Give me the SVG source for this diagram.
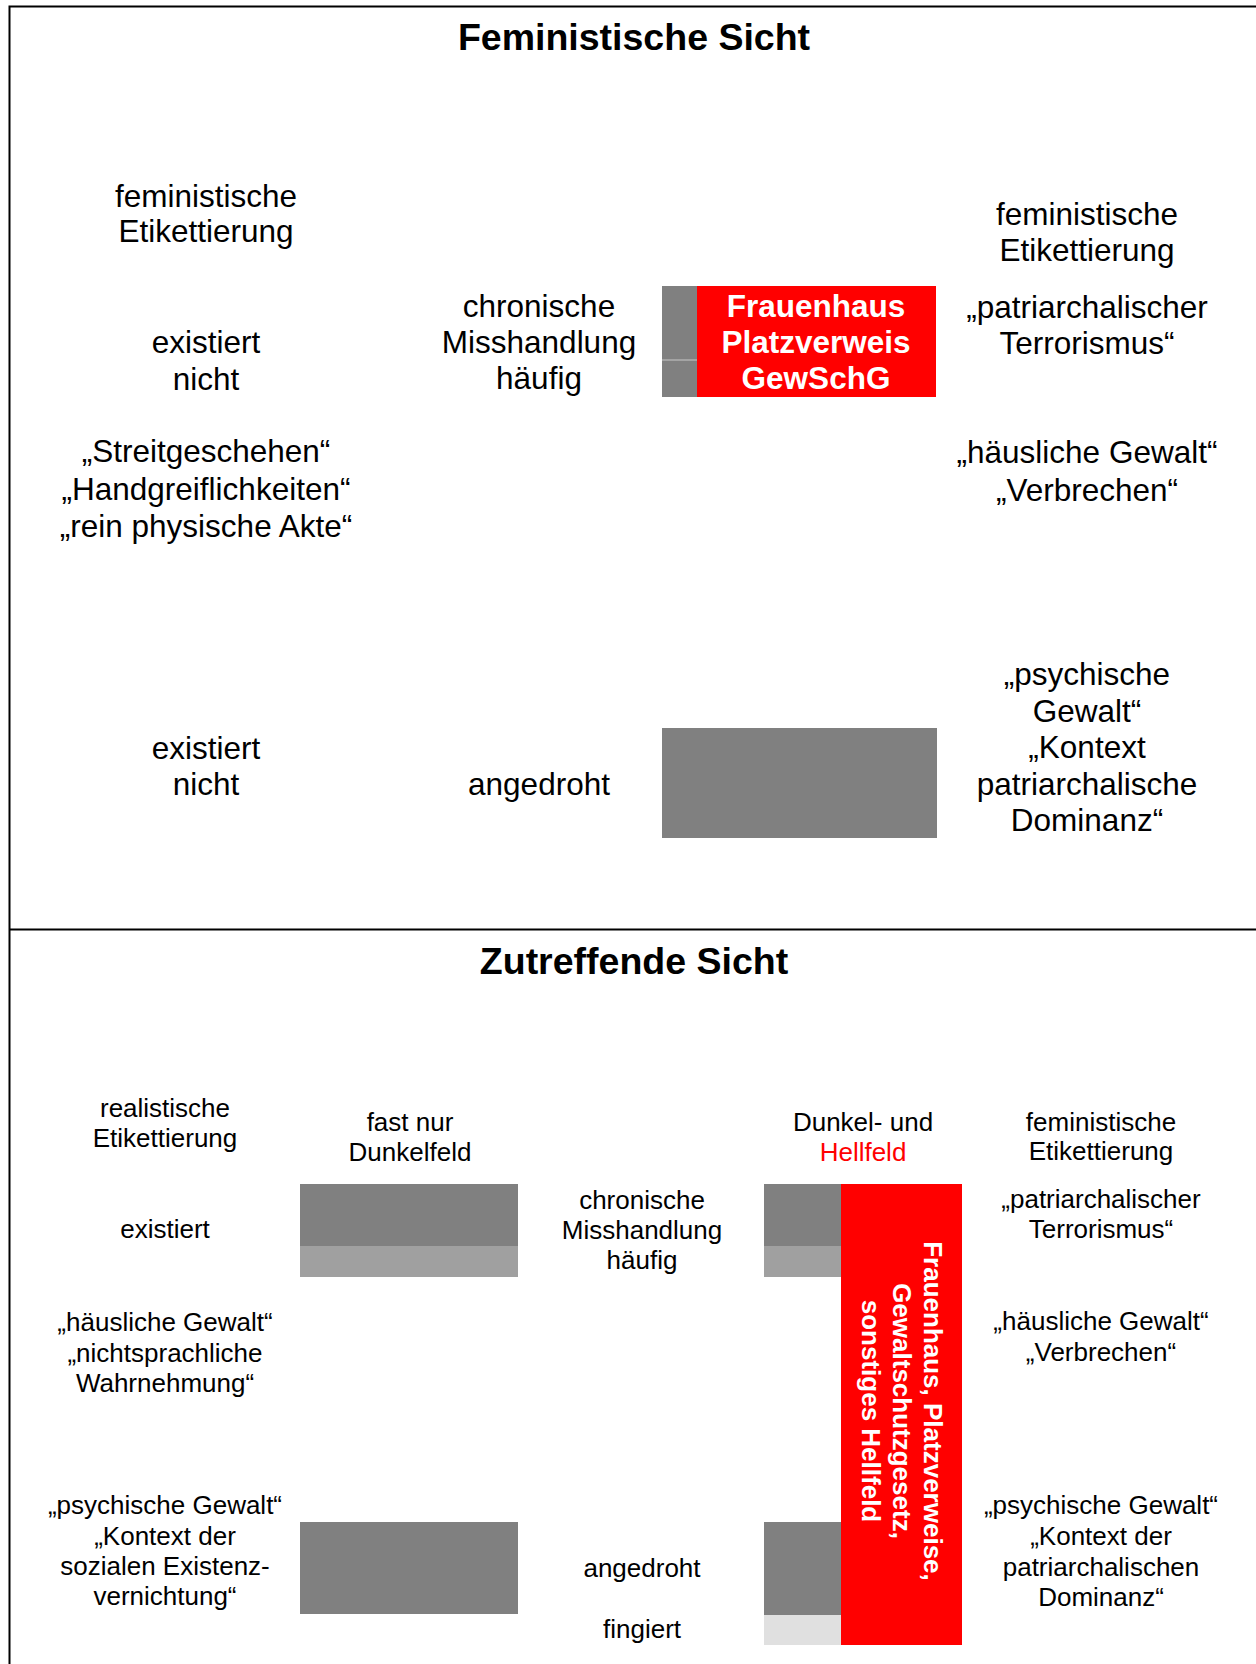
<svg xmlns="http://www.w3.org/2000/svg" width="1256" height="1664" viewBox="0 0 1256 1664">
<style>
text{font-family:"Liberation Sans",Arial,sans-serif;fill:#000;text-anchor:middle}
.t{font-size:37.5px;font-weight:bold}
.a{font-size:31.5px}
.b{font-size:26px}
.w{fill:#fff;font-weight:bold}
.r{fill:#ff0000}
.frame{stroke:#000;stroke-width:2;fill:none}
.g1{fill:#808080}
.g2{fill:#a0a0a0}
.g3{fill:#e0e0e0}
.red{fill:#ff0000}
</style>
<rect width="1256" height="1664" fill="#fff"/>
<g id="frame">
<path class="frame" d="M1256 6.5H9.5V1664M9.5 929.5H1256"/>
</g>
<g id="connectors"/>

<g id="title-top"><text class="t" x="634" y="50">Feministische Sicht</text></g>
<g id="top-left-label"><text class="a" x="206" y="207">feministische<tspan x="206" dy="35">Etikettierung</tspan></text></g>
<g id="top-left-row1"><text class="a" x="206" y="353">existiert<tspan x="206" dy="37">nicht</tspan></text></g>
<g id="top-left-row2"><text class="a" x="206" y="462">„Streitgeschehen“<tspan x="206" dy="37.5">„Handgreiflichkeiten“</tspan><tspan x="206" dy="37.5">„rein physische Akte“</tspan></text></g>
<g id="top-left-row3"><text class="a" x="206" y="759">existiert<tspan x="206" dy="36">nicht</tspan></text></g>
<g id="top-mid-row1"><text class="a" x="539" y="317">chronische<tspan x="539" dy="36">Misshandlung</tspan><tspan x="539" dy="36">häufig</tspan></text></g>
<g id="top-mid-row3"><text class="a" x="539" y="795">angedroht</text></g>
<g id="top-box1">
<rect class="g1" x="662" y="286" width="35" height="111"/>
<rect class="red" x="697" y="286" width="239" height="111"/>
<line x1="662" y1="360" x2="697" y2="360" stroke="#c8c8c8" stroke-width="1"/>
<text class="a w" x="816" y="317">Frauenhaus<tspan x="816" dy="36">Platzverweis</tspan><tspan x="816" dy="36">GewSchG</tspan></text>
</g>
<g id="top-box2"><rect class="g1" x="662" y="728" width="275" height="110"/></g>
<g id="top-right-label"><text class="a" x="1087" y="225">feministische<tspan x="1087" dy="36">Etikettierung</tspan></text></g>
<g id="top-right-row1"><text class="a" x="1087" y="318">„patriarchalischer<tspan x="1087" dy="36">Terrorismus“</tspan></text></g>
<g id="top-right-row2"><text class="a" x="1087" y="463">„häusliche Gewalt“<tspan x="1087" dy="38">„Verbrechen“</tspan></text></g>
<g id="top-right-row3"><text class="a" x="1087" y="685">„psychische<tspan x="1087" dy="36.5">Gewalt“</tspan><tspan x="1087" dy="36.5">„Kontext</tspan><tspan x="1087" dy="36.5">patriarchalische</tspan><tspan x="1087" dy="36.5">Dominanz“</tspan></text></g>

<g id="title-bottom"><text class="t" x="634" y="974">Zutreffende Sicht</text></g>
<g id="bot-left-label"><text class="b" x="165" y="1117">realistische<tspan x="165" dy="30">Etikettierung</tspan></text></g>
<g id="bot-left-row1"><text class="b" x="165" y="1238">existiert</text></g>
<g id="bot-left-row2"><text class="b" x="165" y="1331">„häusliche Gewalt“<tspan x="165" dy="30.5">„nichtsprachliche</tspan><tspan x="165" dy="30">Wahrnehmung“</tspan></text></g>
<g id="bot-left-row3"><text class="b" x="165" y="1514">„psychische Gewalt“<tspan x="165" dy="30.5">„Kontext der</tspan><tspan x="165" dy="30.5">sozialen Existenz-</tspan><tspan x="165" dy="30">vernichtung“</tspan></text></g>
<g id="bot-dark-label"><text class="b" x="410" y="1131">fast nur<tspan x="410" dy="30">Dunkelfeld</tspan></text></g>
<g id="bot-dark-box1">
<rect class="g1" x="300" y="1184" width="218" height="62"/>
<rect class="g2" x="300" y="1246" width="218" height="31"/>
</g>
<g id="bot-dark-box3"><rect class="g1" x="300" y="1522" width="218" height="92"/></g>
<g id="bot-mid-row1"><text class="b" x="642" y="1209">chronische<tspan x="642" dy="30">Misshandlung</tspan><tspan x="642" dy="30">häufig</tspan></text></g>
<g id="bot-mid-row3"><text class="b" x="642" y="1577">angedroht</text></g>
<g id="bot-mid-row4"><text class="b" x="642" y="1638">fingiert</text></g>
<g id="bot-hell-label"><text class="b" x="863" y="1131">Dunkel- und<tspan class="r" x="863" dy="30">Hellfeld</tspan></text></g>
<g id="bot-hell-box1">
<rect class="g1" x="764" y="1184" width="77" height="62"/>
<rect class="g2" x="764" y="1246" width="77" height="31"/>
</g>
<g id="bot-hell-box3">
<rect class="g1" x="764" y="1522" width="77" height="93"/>
<rect class="g3" x="764" y="1615" width="77" height="30"/>
</g>
<g id="bot-hellfeld">
<rect class="red" x="841" y="1184" width="121" height="461"/>
<text class="b w" transform="translate(924,1411) rotate(90)">Frauenhaus, Platzverweise,<tspan x="0" dy="31">Gewaltschutzgesetz,</tspan><tspan x="0" dy="31">sonstiges Hellfeld</tspan></text>
</g>
<g id="bot-right-label"><text class="b" x="1101" y="1131">feministische<tspan x="1101" dy="29">Etikettierung</tspan></text></g>
<g id="bot-right-row1"><text class="b" x="1101" y="1208">„patriarchalischer<tspan x="1101" dy="30">Terrorismus“</tspan></text></g>
<g id="bot-right-row2"><text class="b" x="1101" y="1330">„häusliche Gewalt“<tspan x="1101" dy="31">„Verbrechen“</tspan></text></g>
<g id="bot-right-row3"><text class="b" x="1101" y="1514">„psychische Gewalt“<tspan x="1101" dy="31">„Kontext der</tspan><tspan x="1101" dy="30.5">patriarchalischen</tspan><tspan x="1101" dy="30.5">Dominanz“</tspan></text></g>
</svg>
